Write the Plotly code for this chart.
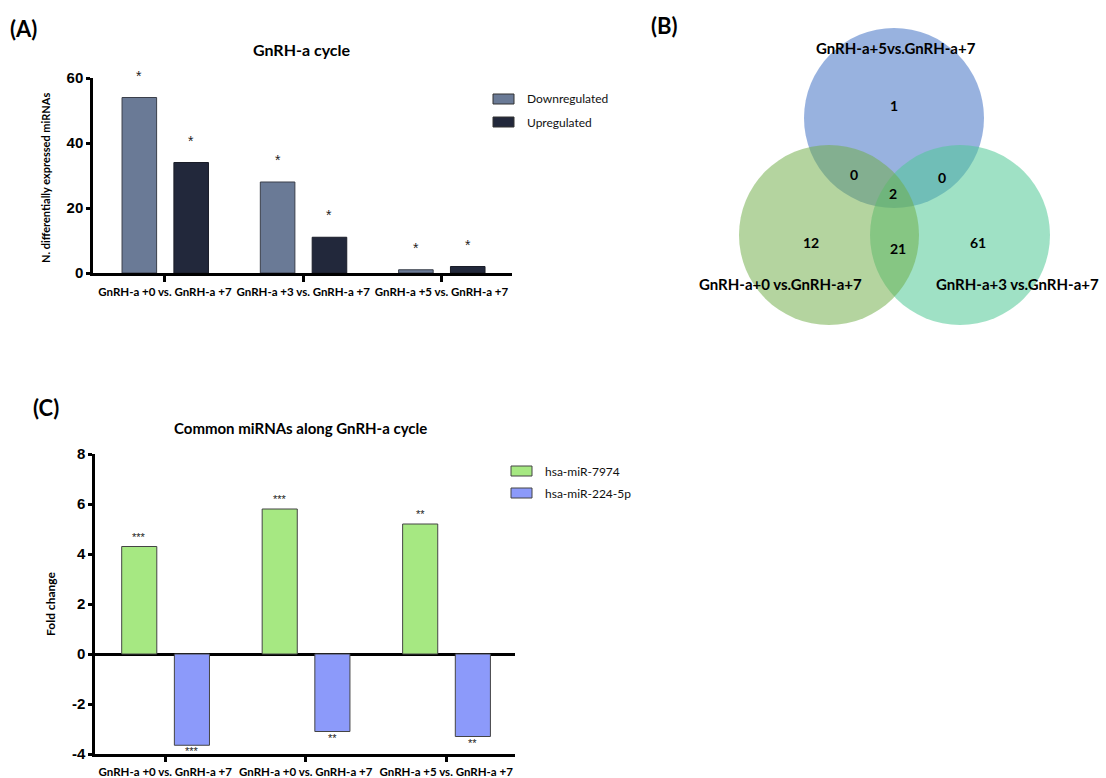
import plotly.graph_objects as go

# ---- Panel A: number of differentially expressed miRNAs ----
comparisons_a = ["GnRH-a +0 vs. GnRH-a +7", "GnRH-a +3 vs. GnRH-a +7", "GnRH-a +5 vs. GnRH-a +7"]
downregulated = [54, 28, 1]
upregulated = [34, 11, 2]
sig_down = ["*", "*", "*"]
sig_up = ["*", "*", "*"]
yticks_a = [0, 20, 40, 60]

# ---- Panel B: Venn diagram counts ----
venn_sets = ["GnRH-a+5vs.GnRH-a+7", "GnRH-a+0 vs.GnRH-a+7", "GnRH-a+3 vs.GnRH-a+7"]
# regions: only top, top&left, top&right, all three, only left, left&right, only right
venn_counts = [1, 0, 0, 2, 12, 21, 61]

# ---- Panel C: common miRNAs fold change ----
comparisons_c = ["GnRH-a +0 vs. GnRH-a +7", "GnRH-a +0 vs. GnRH-a +7", "GnRH-a +5 vs. GnRH-a +7"]
mir_7974 = [4.3, 5.8, 5.2]
mir_224 = [-3.65, -3.1, -3.3]
sig_7974 = ["***", "***", "**"]
sig_224 = ["***", "**", "**"]
yticks_c = [-4, -2, 0, 2, 4, 6, 8]

names_a = ["Downregulated", "Upregulated"]
names_c = ["hsa-miR-7974", "hsa-miR-224-5p"]

W, H = 1106, 778


def px(x):
    return x / W


def py(y):
    return 1 - y / H


CAL = "Lato, 'Open Sans', sans-serif"
ARB = "'Liberation Sans', Arial, sans-serif"

col_down, col_up = "#6a7a96", "#22283b"
col_green, col_blue = "#a6e882", "#8c9afa"

BAR_W = 0.25
OFF_1, OFF_2 = -0.31, 0.065

fig = go.Figure()

xs_a = list(range(len(comparisons_a)))
fig.add_trace(go.Bar(x=xs_a, y=downregulated, name=names_a[0], offset=OFF_1, width=BAR_W,
                     marker=dict(color=col_down, line=dict(color="#3a3f4a", width=1)),
                     xaxis="x", yaxis="y", showlegend=False))
fig.add_trace(go.Bar(x=xs_a, y=upregulated, name=names_a[1], offset=OFF_2, width=BAR_W,
                     marker=dict(color=col_up, line=dict(color="#1a1d28", width=1)),
                     xaxis="x", yaxis="y", showlegend=False))

xs_c = list(range(len(comparisons_c)))
fig.add_trace(go.Bar(x=xs_c, y=mir_7974, name=names_c[0], offset=OFF_1, width=BAR_W,
                     marker=dict(color=col_green, line=dict(color="#444444", width=1)),
                     xaxis="x2", yaxis="y2", showlegend=False))
fig.add_trace(go.Bar(x=xs_c, y=mir_224, name=names_c[1], offset=OFF_2, width=BAR_W,
                     marker=dict(color=col_blue, line=dict(color="#444444", width=1)),
                     xaxis="x2", yaxis="y2", showlegend=False))

annotations = []
shapes = []

# significance marks above the bars in panel A
for vals, sigs, off in ((downregulated, sig_down, OFF_1), (upregulated, sig_up, OFF_2)):
    for i, (v, s) in enumerate(zip(vals, sigs)):
        annotations.append(dict(x=i + off + BAR_W / 2, y=v, xref="x", yref="y", text=s,
                                yshift=22, font=dict(family=ARB, size=14, color="#222")))

# significance marks in panel C (above positive bars, below negative bars)
for vals, sigs, off in ((mir_7974, sig_7974, OFF_1), (mir_224, sig_224, OFF_2)):
    for i, (v, s) in enumerate(zip(vals, sigs)):
        annotations.append(dict(x=i + off + BAR_W / 2, y=v, xref="x2", yref="y2", text=s,
                                yshift=10 if v > 0 else -6,
                                font=dict(family=ARB, size=11, color="#222")))

# panel letters, titles and y-axis titles
annotations += [
    dict(x=px(23), y=py(28), text="<b>(A)</b>", font=dict(family=CAL, size=22, color="black")),
    dict(x=px(664), y=py(26), text="<b>(B)</b>", font=dict(family=CAL, size=22, color="black")),
    dict(x=px(46), y=py(407), text="<b>(C)</b>", font=dict(family=CAL, size=22, color="black")),
    dict(x=px(302), y=py(50), text="<b>GnRH-a cycle</b>", font=dict(family=CAL, size=16, color="black")),
    dict(x=px(300), y=py(428), text="<b>Common miRNAs along GnRH-a cycle</b>",
         font=dict(family=CAL, size=15, color="black")),
    dict(x=px(45), y=py(178), text="<b>N. differentially expressed miRNAs</b>", textangle=-90,
         font=dict(family=CAL, size=11, color="black")),
    dict(x=px(50), y=py(604), text="<b>Fold change</b>", textangle=-90,
         font=dict(family=CAL, size=12, color="black")),
]


# legends drawn as swatch + label
def legend(items, colors, x0, ys, line_col):
    for name, c, yc in zip(items, colors, ys):
        shapes.append(dict(type="rect", xref="paper", yref="paper",
                           x0=px(x0), x1=px(x0 + 21), y0=py(yc + 5), y1=py(yc - 5),
                           fillcolor=c, line=dict(color=line_col, width=1)))
        annotations.append(dict(x=px(x0 + 32), y=py(yc), xref="paper", yref="paper", text=name,
                                xanchor="left", font=dict(family=CAL, size=12, color="#111")))


legend(names_a, [col_down, col_up], 493, [99, 122], "#333")
legend(names_c, [col_green, col_blue], 511, [471, 493], "#444")

# Venn diagram (axis x3/y3 measured in pixels, y downward)
circles = [  # (cx, cy, r, rgba) drawn in order: top, right, left
    (894, 118, 90, "rgba(68,114,196,0.55)"),
    (960, 235, 90, "rgba(80,200,150,0.55)"),
    (829, 235, 90, "rgba(112,173,71,0.52)"),
]
for cx, cy, r, c in circles:
    shapes.append(dict(type="circle", xref="x3", yref="y3", x0=cx - r, x1=cx + r,
                       y0=cy - r, y1=cy + r, fillcolor=c, line=dict(width=0), layer="below"))

count_pos = [(894, 105), (854, 174), (942, 177), (893, 193), (811, 242), (898, 248), (978, 242)]
for (x, y), n in zip(count_pos, venn_counts):
    annotations.append(dict(x=x, y=y, xref="x3", yref="y3", text=f"<b>{n}</b>",
                            font=dict(family=CAL, size=14, color="black")))
label_pos = [(896, 48), (781, 284), (1018, 284)]
for (x, y), t in zip(label_pos, venn_sets):
    annotations.append(dict(x=x, y=y, xref="x3", yref="y3", text=f"<b>{t}</b>",
                            font=dict(family=CAL, size=15, color="black")))

for a in annotations:
    a.setdefault("xref", "paper")
    a.setdefault("yref", "paper")
    a.setdefault("showarrow", False)
    a.setdefault("xanchor", "center")
    a.setdefault("yanchor", "middle")

axis_common = dict(showline=True, linecolor="black", linewidth=2.5, ticks="outside",
                   tickcolor="black", tickwidth=2.5, showgrid=False, zeroline=False,
                   fixedrange=True, automargin=False)

fig.update_layout(
    width=W, height=H, autosize=False, margin=dict(l=0, r=0, t=0, b=0, autoexpand=False),
    paper_bgcolor="white", plot_bgcolor="white", barmode="overlay", showlegend=False,
    xaxis=dict(**axis_common, domain=[px(93), px(512)], range=[-0.52, 2.51], anchor="y",
               tickvals=xs_a, ticktext=comparisons_a, ticklen=6, tickangle=0,
               tickfont=dict(family=CAL, size=11.5, color="black", weight="bold")),
    yaxis=dict(**axis_common, domain=[py(273), py(78)], range=[0, 60], anchor="x",
               tickvals=yticks_a, ticktext=[str(v) for v in yticks_a], ticklen=4,
               tickfont=dict(family=ARB, size=15, color="black", weight="bold")),
    xaxis2=dict(**axis_common, domain=[px(95), px(515)], range=[-0.5, 2.49], anchor="y2",
                tickvals=xs_c, ticktext=comparisons_c, ticklen=5, tickangle=0,
                tickfont=dict(family=CAL, size=11.5, color="black", weight="bold")),
    yaxis2=dict(**{**axis_common, "zeroline": True}, zerolinecolor="black", zerolinewidth=2.5,
                domain=[py(754), py(454)], range=[-4, 8], anchor="x2",
                tickvals=yticks_c, ticktext=[str(v) for v in yticks_c], ticklen=4,
                tickfont=dict(family=ARB, size=15, color="black", weight="bold")),
    xaxis3=dict(domain=[px(690), 1.0], range=[690, 1106], visible=False, anchor="y3",
                fixedrange=True),
    yaxis3=dict(domain=[py(335), py(0)], range=[335, 0], visible=False, anchor="x3",
                fixedrange=True),
    annotations=annotations,
    shapes=shapes,
)

fig.write_html("out.html")
